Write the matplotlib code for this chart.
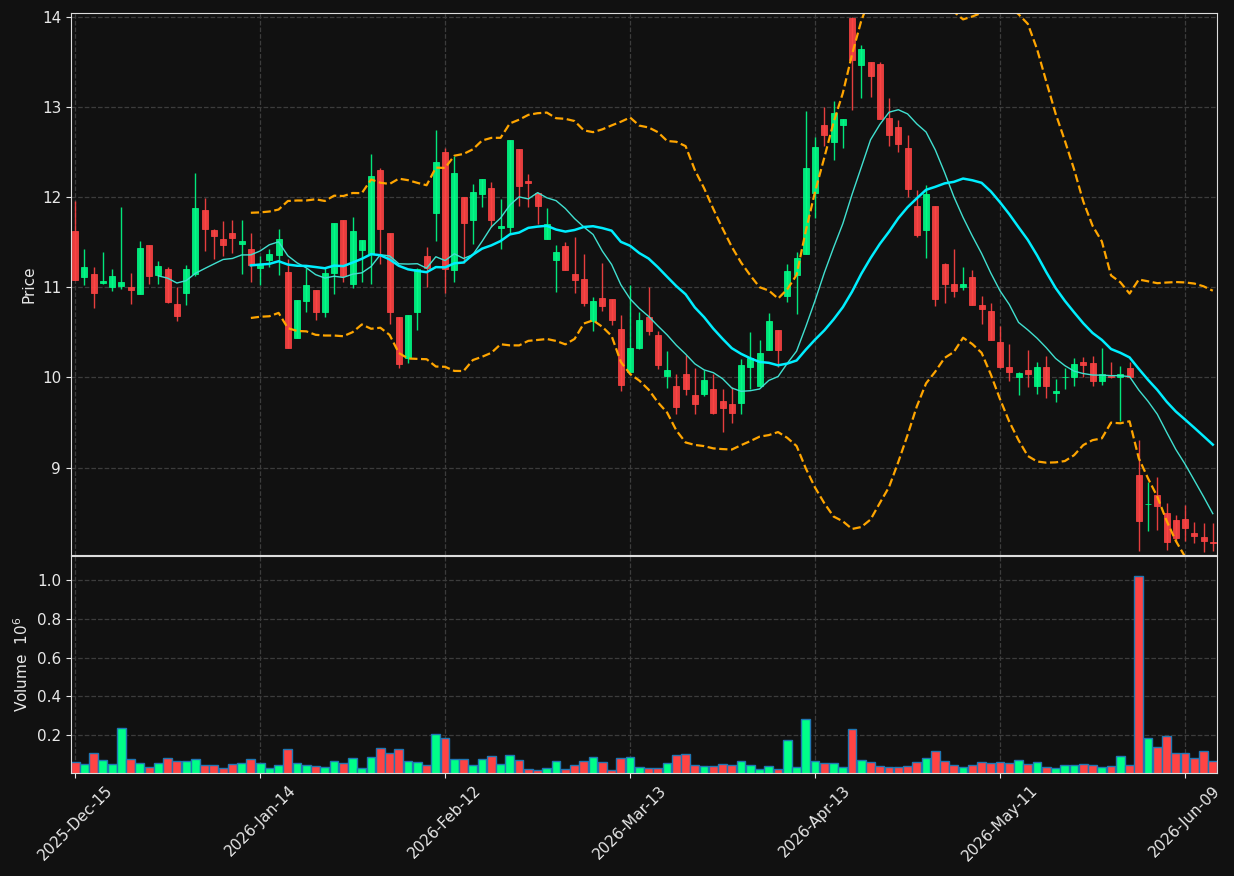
import numpy as np
import pandas as pd
import matplotlib
matplotlib.use("Agg")
import matplotlib.pyplot as plt

# ---------------------- data ----------------------
opens = [11.62, 11.11, 11.15, 11.05, 11.00, 11.01, 11.00, 10.92, 11.47, 11.14,
         11.20, 10.81, 10.94, 11.15, 11.86, 11.63, 11.53, 11.60, 11.48, 11.42,
         11.21, 11.30, 11.36, 11.17, 10.44, 10.85, 10.97, 10.73, 11.16, 11.74,
         11.04, 11.41, 11.37, 12.30, 11.60, 10.67, 10.21, 10.73, 11.34, 11.82,
         12.50, 11.19, 12.00, 11.75, 12.03, 12.10, 11.66, 11.67, 12.53, 12.18,
         12.04, 11.53, 11.30, 11.46, 11.15, 11.09, 10.63, 10.88, 10.87, 10.54,
         10.06, 10.32, 10.67, 10.47, 10.02, 9.90, 10.04, 9.80, 9.82, 9.87,
         9.74, 9.70, 9.72, 10.12, 9.90, 10.30, 10.53, 10.90, 11.14, 11.37,
         12.04, 12.80, 12.61, 12.80, 13.98, 13.46, 13.50, 13.47, 12.88, 12.78,
         12.54, 11.90, 11.63, 11.90, 11.26, 11.04, 11.00, 11.11, 10.80, 10.74,
         10.39, 10.11, 10.00, 10.08, 9.90, 10.12, 9.83, 10.00, 10.00, 10.17,
         10.16, 9.96, 10.02, 10.00, 10.10, 8.92, 8.60, 8.70, 8.50, 8.42,
         8.43, 8.27, 8.23, 8.17]
highs = [11.95, 11.42, 11.22, 11.39, 11.20, 11.89, 11.16, 11.51, 11.47, 11.29,
         11.22, 11.00, 11.25, 12.27, 11.99, 11.65, 11.73, 11.75, 11.75, 11.60,
         11.34, 11.42, 11.64, 11.31, 10.86, 11.21, 10.97, 11.21, 11.71, 11.74,
         11.78, 11.52, 12.48, 12.32, 11.60, 10.67, 10.69, 11.21, 11.44, 12.74,
         12.54, 12.45, 12.00, 12.14, 12.20, 12.17, 11.98, 12.63, 12.53, 12.26,
         12.05, 11.88, 11.47, 11.50, 11.56, 11.37, 10.89, 11.27, 10.87, 10.69,
         11.02, 10.73, 11.00, 10.51, 10.29, 10.04, 10.25, 10.10, 10.08, 10.04,
         9.87, 9.89, 10.20, 10.50, 10.41, 10.71, 10.53, 11.26, 11.39, 12.95,
         12.66, 13.00, 13.06, 12.86, 14.00, 13.68, 13.50, 13.50, 13.10, 12.85,
         12.69, 12.08, 12.13, 11.90, 11.27, 11.42, 11.22, 11.19, 10.90, 10.82,
         10.57, 10.37, 10.06, 10.30, 10.17, 10.24, 9.98, 10.10, 10.21, 10.23,
         10.24, 10.32, 10.17, 10.13, 10.17, 9.31, 8.84, 8.89, 8.61, 8.47,
         8.59, 8.40, 8.39, 8.39]
lows = [11.08, 11.02, 10.77, 11.04, 10.96, 10.98, 10.81, 10.92, 11.04, 11.03,
        10.82, 10.63, 10.80, 11.12, 11.40, 11.31, 11.35, 11.38, 11.15, 11.06,
        11.02, 11.22, 11.14, 10.33, 10.44, 10.72, 10.64, 10.67, 10.92, 11.06,
        10.99, 11.06, 11.04, 11.26, 10.59, 10.10, 10.16, 10.53, 11.00, 11.51,
        10.93, 11.06, 11.27, 11.48, 11.89, 11.67, 11.42, 11.60, 11.90, 11.89,
        11.70, 11.53, 10.95, 11.19, 10.93, 10.79, 10.51, 10.74, 10.58, 9.85,
        10.06, 10.31, 10.47, 10.09, 9.88, 9.59, 9.80, 9.59, 9.79, 9.59,
        9.39, 9.49, 9.59, 9.87, 9.90, 10.30, 10.12, 10.83, 10.70, 11.37,
        11.77, 12.56, 12.41, 12.54, 12.96, 13.10, 13.11, 12.86, 12.56, 12.50,
        12.00, 11.56, 11.32, 10.79, 10.82, 10.89, 10.97, 10.80, 10.59, 10.41,
        10.10, 9.96, 9.80, 9.89, 9.82, 9.77, 9.73, 9.87, 9.90, 10.00,
        9.90, 9.92, 9.99, 9.52, 9.99, 8.07, 8.30, 8.31, 8.09, 8.17,
        8.19, 8.16, 8.06, 8.08]
closes = [11.08, 11.22, 10.94, 11.07, 11.12, 11.06, 10.97, 11.43, 11.12, 11.24,
          10.83, 10.68, 11.20, 11.88, 11.65, 11.57, 11.47, 11.54, 11.51, 11.25,
          11.26, 11.37, 11.53, 10.33, 10.86, 11.02, 10.72, 11.16, 11.71, 11.12,
          11.62, 11.52, 12.23, 11.64, 10.72, 10.15, 10.69, 11.20, 11.21, 12.39,
          11.20, 12.27, 11.71, 12.06, 12.20, 11.75, 11.68, 12.63, 12.12, 12.16,
          11.90, 11.70, 11.39, 11.19, 11.08, 10.82, 10.85, 10.79, 10.64, 9.91,
          10.33, 10.64, 10.51, 10.14, 10.08, 9.67, 9.87, 9.71, 9.97, 9.60,
          9.66, 9.61, 10.14, 10.21, 10.27, 10.62, 10.30, 11.18, 11.32, 12.32,
          12.55, 12.69, 12.93, 12.86, 13.52, 13.64, 13.34, 12.86, 12.69, 12.59,
          12.09, 11.58, 12.03, 10.87, 11.03, 10.96, 11.03, 10.80, 10.76, 10.41,
          10.12, 10.06, 10.05, 10.04, 10.11, 9.90, 9.85, 10.00, 10.15, 10.14,
          9.96, 10.04, 10.00, 10.04, 10.00, 8.41, 8.60, 8.57, 8.17, 8.22,
          8.33, 8.24, 8.19, 8.16]
# volume in millions
volumes = [0.060, 0.050, 0.107, 0.071, 0.050, 0.236, 0.076, 0.055, 0.034, 0.055,
           0.081, 0.065, 0.065, 0.076, 0.045, 0.045, 0.029, 0.050, 0.055, 0.076,
           0.055, 0.029, 0.045, 0.127, 0.055, 0.045, 0.040, 0.034, 0.065, 0.055,
           0.081, 0.029, 0.086, 0.133, 0.107, 0.127, 0.065, 0.060, 0.045, 0.205,
           0.184, 0.076, 0.076, 0.045, 0.076, 0.091, 0.050, 0.096, 0.071, 0.024,
           0.019, 0.029, 0.065, 0.024, 0.045, 0.065, 0.086, 0.060, 0.019, 0.081,
           0.086, 0.034, 0.029, 0.029, 0.055, 0.096, 0.102, 0.045, 0.040, 0.040,
           0.050, 0.045, 0.065, 0.045, 0.024, 0.040, 0.024, 0.174, 0.034, 0.282,
           0.065, 0.055, 0.055, 0.034, 0.231, 0.071, 0.060, 0.040, 0.034, 0.034,
           0.040, 0.060, 0.081, 0.117, 0.065, 0.045, 0.034, 0.045, 0.060, 0.055,
           0.060, 0.055, 0.071, 0.050, 0.060, 0.034, 0.029, 0.045, 0.045, 0.050,
           0.045, 0.034, 0.040, 0.091, 0.045, 1.021, 0.184, 0.138, 0.194, 0.107,
           0.107, 0.081, 0.117, 0.065]

tick_idx = [0, 20, 40, 60, 80, 100, 120]
tick_labels = ["2025-Dec-15", "2026-Jan-14", "2026-Feb-12", "2026-Mar-13",
               "2026-Apr-13", "2026-May-11", "2026-Jun-09"]

# ---------------------- style ----------------------
bg = "#111111"
up_col = "#00ff88"
down_col = "#ff4444"
txt = "#e8e8e8"

df = pd.DataFrame({"Open": opens, "High": highs, "Low": lows,
                   "Close": closes, "Volume": volumes})
x = np.arange(len(df))
ma10 = df["Close"].rolling(10).mean()
ma20 = df["Close"].rolling(20).mean()
sd20 = df["Close"].rolling(20).std(ddof=0)
upper = ma20 + 2 * sd20
lower = ma20 - 2 * sd20

is_up = df["Close"] >= df["Open"]
colors = np.where(is_up, up_col, down_col)

fig = plt.figure(figsize=(12.34, 8.76), dpi=100, facecolor=bg)
ax = fig.add_axes([0.0575, 0.3664, 0.9287, 0.6188])
axv = fig.add_axes([0.0575, 0.1176, 0.9287, 0.2477], sharex=ax)

for a in (ax, axv):
    a.set_facecolor(bg)
    for s in a.spines.values():
        s.set_color("#dddddd")
    a.tick_params(colors=txt, labelsize=11)
    a.grid(True, color="#3c3c3c", linestyle="--", linewidth=0.9)
    a.set_axisbelow(True)

# candles
body_bottom = np.minimum(df["Open"], df["Close"])
body_height = (df["Close"] - df["Open"]).abs()
ax.vlines(x, df["Low"], df["High"], colors=colors, linewidth=1, alpha=0.9)
ax.bar(x, body_height, bottom=body_bottom, width=0.65, color=colors,
       edgecolor=colors, linewidth=0.6, alpha=0.9)

# moving averages + bands
ax.plot(x, ma10, color="#40e0d0", linewidth=1)
ax.plot(x, ma20, color="#00eeff", linewidth=1.8)
ax.plot(x, upper, color="#ffa500", linewidth=1.6, linestyle="--")
ax.plot(x, lower, color="#ffa500", linewidth=1.6, linestyle="--")

ax.set_ylim(8.03, 14.04)
ax.set_ylabel("Price", color=txt, fontsize=11)
ax.tick_params(axis="x", labelbottom=False)

# volume
axv.bar(x, df["Volume"], width=0.95, color=colors, edgecolor="#1f77b4", linewidth=1)
axv.set_ylim(0.3 * min(volumes), 1.1 * max(volumes))
axv.set_yticks([0.2, 0.4, 0.6, 0.8, 1.0])
axv.set_ylabel("Volume  $10^{6}$", color=txt, fontsize=11)

axv.set_xlim(-0.45, len(df) - 0.55)
axv.set_xticks(tick_idx)
axv.set_xticklabels(tick_labels, rotation=45, ha="center")

fig.savefig("out.png", dpi=100, facecolor=bg)
